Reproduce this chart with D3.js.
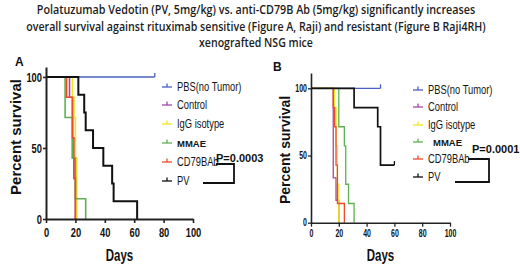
<!DOCTYPE html>
<html>
<head>
<meta charset="utf-8" />
<script src="https://d3js.org/d3.v7.min.js"></script>
<style>
  body { margin: 0; background: #fff; }
  svg { display: block; background: #fff; }
</style>
</head>
<body>
<svg width="520" height="266"></svg>
<script>
const ARIAL = '"Liberation Sans", Arial, sans-serif';

const titleLines = [
  "Polatuzumab Vedotin (PV, 5mg/kg) vs. anti-CD79B Ab (5mg/kg) significantly  increases",
  "overall survival against rituximab sensitive (Figure A, Raji)  and resistant  (Figure B Raji4RH)",
  "xenografted NSG mice"
];
const titleWidths = [439, 460, 114];

const groups = ["PBS(no Tumor)", "Control", "IgG isotype", "MMAE", "CD79BAb", "PV"];
const groupColors = ["#4a5fc0", "#a247a6", "#f3e61c", "#5db150", "#ee4b2b", "#111111"];
const xTicks = [0, 20, 40, 60, 80, 100];
const yTicks = [0, 50, 100];

// panel A (Raji) - days / percent survival after each step
const pbsA_t = [0, 74],                          pbsA_s = [100, 100];
const ctrlA_t = [0, 16, 18, 19, 20],             ctrlA_s = [100, 85.7, 42.9, 28.6, 0];
const iggA_t = [0, 18, 19, 20, 21],              iggA_s = [100, 85.7, 71.4, 42.9, 0];
const mmaeA_t = [0, 13, 18, 20, 27],             mmaeA_s = [100, 71.4, 42.9, 14.3, 0];
const cd79A_t = [0, 14, 18, 19, 20],             cd79A_s = [100, 85.7, 57.1, 28.6, 0];
const pvA_t = [0, 22, 26, 27, 32, 39, 45, 46, 62], pvA_s = [100, 87.5, 75, 62.5, 50, 37.5, 25, 12.5, 0];
const censA = [[74], [], [], [], [], []];

// panel B (Raji4RH)
const pbsB_t = [0, 50],                          pbsB_s = [100, 100];
const ctrlB_t = [0, 16, 18, 20],                 ctrlB_s = [100, 33.3, 16.7, 0];
const iggB_t = [0, 17, 18, 19, 20],              iggB_s = [100, 85.7, 57.1, 28.6, 0];
const mmaeB_t = [0, 20, 24, 25, 27, 31],         mmaeB_s = [100, 71.4, 57.1, 28.6, 14.3, 0];
const cd79B_t = [0, 16, 17, 18, 19, 24],         cd79B_s = [100, 85.7, 71.4, 42.9, 14.3, 0];
const pvB_t = [0, 31, 48, 50, 60],               pvB_s = [100, 85.7, 71.4, 42.9, 42.9];
const censB = [[50], [], [], [], [], [60]];

const pValues = ["P=0.0003", "P=0.0001"];

const svg = d3.select("svg");

// squeeze text horizontally around its own x anchor
function squeeze(sel, k) {
  sel.each(function () {
    const t = d3.select(this);
    const x = +t.attr("x") || 0;
    t.attr("x", x / k).attr("transform", `scale(${k},1)`);
  });
}

// title
titleLines.forEach((t, i) => {
  const txt = svg.append("text")
    .attr("x", 256).attr("y", [14, 31, 47][i])
    .attr("text-anchor", "middle")
    .attr("font-family", '"Open Sans", sans-serif')
    .attr("font-weight", 600)
    .attr("font-size", 13)
    .attr("fill", "#1c1c1c")
    .text(t);
  const k = titleWidths[i] / txt.node().getComputedTextLength();
  squeeze(txt, k);
});

function surv(t, s, at) {
  let v = s[0];
  t.forEach((d, i) => { if (d <= at) v = s[i]; });
  return v;
}

function drawPanel(p) {
  const x = d3.scaleLinear().domain([0, 100]).range(p.xRange);
  const y = d3.scaleLinear().domain([0, p.yTop]).range(p.yRange);
  const g = svg.append("g");

  const line = d3.line().curve(d3.curveStepAfter)
    .x(d => x(d[0])).y(d => y(d[1]));

  p.series.forEach((sr, i) => {
    const pts = sr.t.map((d, j) => [d, sr.s[j]]);
    g.append("path").datum(pts)
      .attr("d", line)
      .attr("fill", "none")
      .attr("stroke", groupColors[i])
      .attr("stroke-width", i === 5 ? p.lineW + 0.4 : p.lineW);
    p.cens[i].forEach(c => {
      const cx = x(c), cy = y(surv(sr.t, sr.s, c));
      g.append("line")
        .attr("x1", cx).attr("x2", cx).attr("y1", cy).attr("y2", cy - 4)
        .attr("stroke", groupColors[i]).attr("stroke-width", 1.3);
    });
  });

  // axes
  const yAxis = d3.axisLeft(y).tickValues(yTicks).tickSize(3).tickPadding(1).tickSizeOuter(0);
  const xAxis = d3.axisBottom(x).tickValues(xTicks).tickSize(4).tickPadding(p.xPad).tickSizeOuter(0);

  const gy = g.append("g").attr("transform", `translate(${p.xRange[0]},0)`).call(yAxis);
  const gx = g.append("g").attr("transform", `translate(0,${p.yRange[0]})`).call(xAxis);
  [gx, gy].forEach(a => {
    a.select(".domain").attr("stroke", "#222").attr("stroke-width", p.axisW);
    a.selectAll(".tick line").attr("stroke", "#222").attr("stroke-width", p.axisW * 0.8);
    a.attr("font-family", ARIAL).attr("font-weight", "bold").attr("font-size", p.tickFont);
    a.selectAll(".tick text").attr("fill", "#111");
    squeeze(a.selectAll(".tick text"), p.tickK);
  });

  // axis titles
  g.append("text")
    .attr("transform", `translate(${p.yTitleX},${p.yTitleY}) rotate(-90)`)
    .attr("text-anchor", "middle")
    .attr("font-family", ARIAL).attr("font-weight", "bold")
    .attr("font-size", p.yTitleFont).attr("fill", "#111")
    .text("Percent survival");
  const days = g.append("text")
    .attr("x", (p.xRange[0] + p.xRange[1]) / 2).attr("y", 261)
    .attr("text-anchor", "middle")
    .attr("font-family", ARIAL).attr("font-weight", "bold")
    .attr("font-size", 16).attr("fill", "#111")
    .text("Days");
  squeeze(days, 0.72);

  // panel letter
  g.append("text")
    .attr("x", p.letterPos[0]).attr("y", p.letterPos[1])
    .attr("font-family", ARIAL).attr("font-weight", "bold")
    .attr("font-size", 12).attr("fill", "#111")
    .text(p.letter);

  // legend
  const lg = g.append("g");
  groups.forEach((name, i) => {
    const ly = p.legY[i];
    lg.append("line")
      .attr("x1", p.legX).attr("x2", p.legX + 10).attr("y1", ly).attr("y2", ly)
      .attr("stroke", groupColors[i]).attr("stroke-width", 1.3);
    lg.append("line")
      .attr("x1", p.legX + 5).attr("x2", p.legX + 5).attr("y1", ly).attr("y2", ly - 3.5)
      .attr("stroke", groupColors[i]).attr("stroke-width", 1.3);
    const isMmae = name === "MMAE";
    const lt = lg.append("text")
      .attr("x", p.legX + (isMmae ? p.mmaeDx : 15)).attr("y", ly + 4)
      .attr("font-family", ARIAL)
      .attr("font-weight", isMmae ? "bold" : 500)
      .attr("font-size", isMmae ? 9.5 : 12)
      .attr("fill", "#151515")
      .text(name);
    squeeze(lt, isMmae ? 1 : 0.78);
  });

  // p-value bracket
  const b = p.bracket;
  g.append("path")
    .attr("d", `M${b.x1},${b.yTop}H${b.xv}V${b.yBot}H${b.x2}`)
    .attr("fill", "none").attr("stroke", "#111").attr("stroke-width", 1.8);
  g.append("text")
    .attr("x", b.tx).attr("y", b.ty)
    .attr("font-family", ARIAL).attr("font-weight", "bold")
    .attr("font-size", 11).attr("fill", "#111")
    .text(p.pValue);
}

drawPanel({
  letter: "A", letterPos: [15, 66],
  xRange: [46, 193], yRange: [219, 67], yTop: 107,
  lineW: 1.6, axisW: 2, tickFont: 13, tickK: 0.72, xPad: 5,
  yTitleX: 21, yTitleY: 137, yTitleFont: 15,
  series: [
    { t: pbsA_t, s: pbsA_s }, { t: ctrlA_t, s: ctrlA_s }, { t: iggA_t, s: iggA_s },
    { t: mmaeA_t, s: mmaeA_s }, { t: cd79A_t, s: cd79A_s }, { t: pvA_t, s: pvA_s }
  ],
  cens: censA,
  legX: 162, legY: [87, 105, 124, 143, 162, 181], mmaeDx: 15,
  bracket: { x1: 216, xv: 234, yTop: 164, yBot: 183, x2: 203, tx: 216, ty: 162 },
  pValue: pValues[0]
});

drawPanel({
  letter: "B", letterPos: [273, 71],
  xRange: [311, 450], yRange: [222.7, 73], yTop: 111.4,
  lineW: 1.3, axisW: 1.6, tickFont: 10, tickK: 0.7, xPad: 3,
  yTitleX: 290, yTitleY: 150, yTitleFont: 14,
  series: [
    { t: pbsB_t, s: pbsB_s }, { t: ctrlB_t, s: ctrlB_s }, { t: iggB_t, s: iggB_s },
    { t: mmaeB_t, s: mmaeB_s }, { t: cd79B_t, s: cd79B_s }, { t: pvB_t, s: pvB_s }
  ],
  cens: censB,
  legX: 413, legY: [90, 107, 125, 142, 159, 177], mmaeDx: 20,
  bracket: { x1: 468, xv: 489, yTop: 159, yBot: 182, x2: 455, tx: 472, ty: 153 },
  pValue: pValues[1]
});
</script>
</body>
</html>
